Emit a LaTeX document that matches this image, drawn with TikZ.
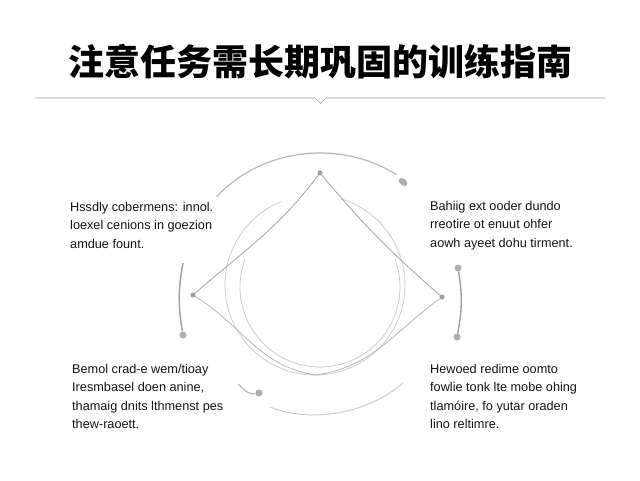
\documentclass[tikz,border=0pt]{standalone}
\usepackage{fontspec}
\setmainfont{Liberation Sans}
\newfontfamily\cjk{Noto Sans CJK SC}
\usetikzlibrary{positioning,shapes.geometric}
\definecolor{linegray}{rgb}{0.64,0.64,0.64}
\definecolor{ringgray}{rgb}{0.80,0.80,0.80}
\definecolor{arcgray}{rgb}{0.72,0.72,0.72}
\definecolor{dotgray}{rgb}{0.62,0.62,0.62}
\definecolor{textgray}{rgb}{0.08,0.08,0.08}

\tikzset{
  dot/.style={circle,fill=dotgray,inner sep=0pt,minimum size=5pt},
  enddot/.style={circle,fill=dotgray!85,inner sep=0pt,minimum size=7pt},
  blob/.style={ellipse,fill=dotgray!85,inner sep=0pt,minimum width=10pt,minimum height=6.5pt},
  blurb/.style={anchor=north west,inner sep=0pt,align=left,text=textgray,
    font=\fontsize{12.7}{18.3}\selectfont},
}

\begin{document}
\begin{tikzpicture}[x=1pt,y=1pt]
\useasboundingbox (0,0) rectangle (640,480);

% title and rule
\node (title) at (320,418) {\cjk\bfseries\fontsize{36}{40}\selectfont 注意任务需长期巩固的训练指南};
\draw[color=gray!75, line width=0.6pt] (35,382) -- (315,382) -- (320.5,376.5) -- (326,382) -- (605,382);

% inner rings
\draw[ringgray, line width=0.8pt] (320,193) ++(160:80) arc (160:380:80);
\draw[ringgray, line width=0.8pt] (315,195) ++(112:90) arc (112:433:90);

% outer arcs
\node[blob, rotate=-40] (topend) at (403,298) {};
\draw[arcgray, line width=1.2pt] (320,200) ++(139:137 and 127)
  arc[start angle=139, end angle=56, x radius=137, y radius=127];

\coordinate (lefttop) at (183,217);
\node[enddot] (leftend) at (183,145) {};
\draw[dotgray, line width=1.4pt] (lefttop) to[bend right=10] (leftend);

\node[enddot] (righttop) at (458,212) {};
\node[enddot] (rightend) at (457,143) {};
\draw[dotgray, line width=1.4pt] (righttop) to[bend left=10] (rightend);

\coordinate (hookstart) at (238,96);
\node[enddot] (hookend) at (259,87) {};
\draw[arcgray, line width=1.2pt] (hookstart) to[out=-40,in=190] (hookend);

\draw[ringgray, line width=1pt] (270,73) .. controls (300,60) and (360,60) .. (403,97);

% the three points
\node[dot] (top) at (320,307) {};
\node[dot] (left) at (193,185) {};
\node[dot] (right) at (442,183) {};
\coordinate (bot) at (316,105);

\draw[linegray, line width=0.8pt] (top) to[out=233,in=41] (left);
\draw[linegray, line width=0.8pt] (top) to[out=-50,in=139] (right);
\draw[linegray!80, line width=0.8pt] (left) to[out=-32,in=172] (bot);
\draw[linegray!80, line width=0.8pt] (right) to[out=216,in=8] (bot);

% texts
\node[blurb] (tl) at (70,278) {Hssdly cobermens: innol.\\ loexel cenions in goezion\\ amdue fount.};
\node[blurb] (tr) at (430,279) {Bahiig ext ooder dundo\\ rreotire ot enuut ohfer\\ aowh ayeet dohu tirment.};
\node[blurb] (bl) at (72,116) {Bemol crad-e wem/tioay\\ Iresmbasel doen anine,\\ thamaig dnits lthmenst pes\\ thew-raoett.};
\node[blurb] (br) at (430,116) {Hewoed redime oomto\\ fowlie tonk lte mobe ohing\\ tlamóire, fo yutar oraden\\ lino reltimre.};
\end{tikzpicture}
\end{document}
